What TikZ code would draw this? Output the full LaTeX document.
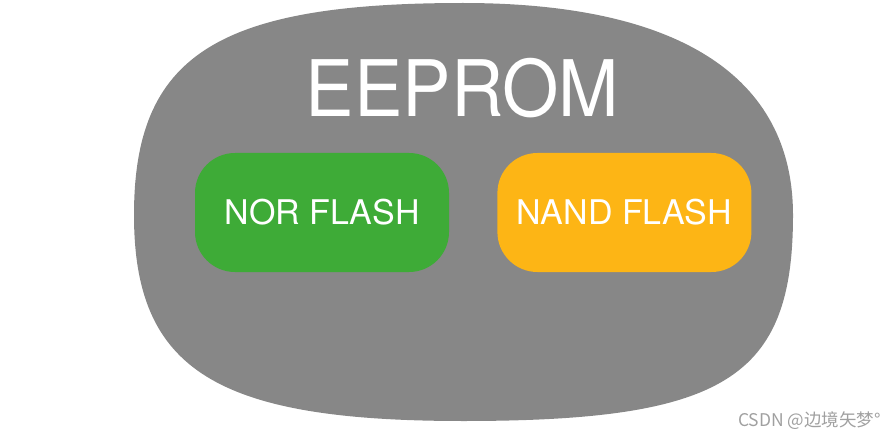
\documentclass[tikz,border=0pt]{standalone}
\usepackage{fontspec}
\setmainfont{TeX Gyre Heros}
\newfontfamily\cjkfont{Noto Sans CJK SC}
\usetikzlibrary{positioning}
\definecolor{ShellFill}{HTML}{878787}
\definecolor{NorFill}{HTML}{3EAB37}
\definecolor{NandFill}{HTML}{FDB515}
\definecolor{MarkText}{HTML}{A0A0A0}
\tikzset{
  shell/.style={fill=ShellFill},
  chip/.style={rounded corners=40pt, minimum width=254pt, minimum height=119pt,
    inner sep=0pt, text=white, font=\fontsize{34}{40}\selectfont},
  title/.style={text=white, font=\fontsize{78}{90}\selectfont, inner sep=0pt},
  watermark/.style={text=MarkText, font=\cjkfont\fontsize{17.5}{20}\selectfont, inner sep=0pt},
}

\begin{document}
\begin{tikzpicture}[x=1pt, y=-1pt]
  \useasboundingbox (0,0) rectangle (894,441);

  % Outer rounded shell, one cubic per quarter (slightly uneven, as drawn by hand).
  \coordinate (top) at (463,3);
  \coordinate (left) at (134,215);
  \coordinate (bottom) at (463,421);
  \coordinate (right) at (793,215);
  \fill[shell] (top)
    .. controls (216,3) and (134,56) .. (left)
    .. controls (134,370) and (216,421) .. (bottom)
    .. controls (725,421) and (793,378) .. (right)
    .. controls (793,76) and (678,3) .. (top) -- cycle;

  % Title and the two contained parts.
  \node[title, xscale=0.93] (eeprom) at (462.5,88.5) {EEPROM};
  \node[chip, fill=NorFill] (nor) at (322,212.5) {NOR FLASH};
  \node[chip, fill=NandFill, right=48pt of nor] (nand) {NAND FLASH};

  % Watermark.
  \node[watermark, anchor=east] (csdn) at (881,421) {CSDN @边境矢梦°};
\end{tikzpicture}
\end{document}
